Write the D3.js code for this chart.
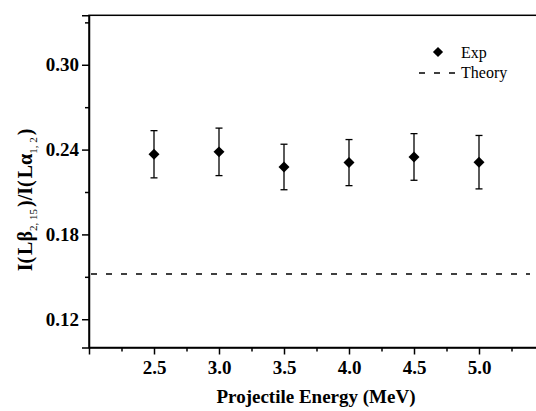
<!DOCTYPE html>
<html>
<head>
<meta charset="utf-8">
<script src="https://cdn.jsdelivr.net/npm/d3@7"></script>
<style>
  body { margin: 0; background: #fff; }
  svg { display: block; }
</style>
</head>
<body>
<div id="chart"></div>
<script>
var energies = [2.5, 3.0, 3.5, 4.0, 4.5, 5.0];
var ratios = [0.2367, 0.2384, 0.2277, 0.2308, 0.2348, 0.2311];
var errors = [0.0167, 0.0168, 0.0161, 0.0163, 0.0165, 0.0189];
var theory = 0.152;
var xTicks = [2.5, 3.0, 3.5, 4.0, 4.5, 5.0];
var yTicks = [0.12, 0.18, 0.24, 0.30];

var width = 536, height = 411;
var serif = "'Liberation Serif', 'Times New Roman', serif";

var x = d3.scaleLinear().domain([2.0, 5.5]).range([89, 544]);
var y = d3.scaleLinear().domain([0.10, 0.335]).range([347.5, 15.3]);

var svg = d3.select("#chart")
    .append("svg")
    .attr("width", width)
    .attr("height", height);

// frame (right edge falls outside the picture)
svg.append("rect")
    .attr("x", x(2.0))
    .attr("y", y(0.335))
    .attr("width", x(5.5) - x(2.0))
    .attr("height", y(0.10) - y(0.335))
    .attr("fill", "none")
    .attr("stroke", "#000")
    .attr("stroke-width", 1.5);

// bottom axis
var xAxis = svg.append("g")
    .attr("transform", "translate(0," + y(0.10) + ")")
    .call(d3.axisBottom(x).tickValues(xTicks).tickSize(7).tickFormat(d3.format(".1f")));
svg.append("g")
    .attr("transform", "translate(0," + y(0.10) + ")")
    .call(d3.axisBottom(x).tickValues(d3.range(2.25, 5.3, 0.5)).tickSize(4).tickFormat(""))
    .call(function(g) { g.select(".domain").remove(); });

// left axis
var yAxis = svg.append("g")
    .attr("transform", "translate(" + x(2.0) + ",0)")
    .call(d3.axisLeft(y).tickValues(yTicks).tickSize(7).tickFormat(d3.format(".2f")));
svg.append("g")
    .attr("transform", "translate(" + x(2.0) + ",0)")
    .call(d3.axisLeft(y).tickValues([0.15, 0.21, 0.27, 0.33]).tickSize(4).tickFormat(""))
    .call(function(g) { g.select(".domain").remove(); });

svg.selectAll(".domain").attr("stroke-width", 1.5);
svg.selectAll(".tick line").attr("stroke-width", 1.5);

xAxis.selectAll("text")
    .attr("font-family", serif)
    .attr("font-weight", "bold")
    .attr("font-size", 19)
    .attr("y", 13)
    .attr("fill", "#000");
yAxis.selectAll("text")
    .attr("font-family", serif)
    .attr("font-weight", "bold")
    .attr("font-size", 19)
    .attr("x", -10)
    .attr("fill", "#000");

// theory line
svg.append("line")
    .attr("x1", x(2.0) + 2)
    .attr("x2", 530)
    .attr("y1", y(theory))
    .attr("y2", y(theory))
    .attr("stroke", "#000")
    .attr("stroke-width", 1.5)
    .attr("stroke-dasharray", "6,9");

// error bars
var pts = energies.map(function(e, i) { return {e: e, r: ratios[i], err: errors[i]}; });
var bars = svg.selectAll(".err").data(pts).enter().append("g").attr("class", "err");
bars.append("line")
    .attr("x1", function(d) { return x(d.e); })
    .attr("x2", function(d) { return x(d.e); })
    .attr("y1", function(d) { return y(d.r - d.err); })
    .attr("y2", function(d) { return y(d.r + d.err); })
    .attr("stroke", "#000")
    .attr("stroke-width", 1.3);
[-1, 1].forEach(function(s) {
    bars.append("line")
        .attr("x1", function(d) { return x(d.e) - 3.5; })
        .attr("x2", function(d) { return x(d.e) + 3.5; })
        .attr("y1", function(d) { return y(d.r + s * d.err); })
        .attr("y2", function(d) { return y(d.r + s * d.err); })
        .attr("stroke", "#000")
        .attr("stroke-width", 1.3);
});

// diamonds
var diamond = d3.symbol().type(d3.symbolSquare).size(60);
svg.selectAll(".pt").data(pts).enter().append("path")
    .attr("class", "pt")
    .attr("d", diamond)
    .attr("transform", function(d) { return "translate(" + x(d.e) + "," + y(d.r) + ") rotate(45)"; })
    .attr("fill", "#000");

// legend
svg.append("path")
    .attr("d", d3.symbol().type(d3.symbolSquare).size(52))
    .attr("transform", "translate(438,52) rotate(45)")
    .attr("fill", "#000");
svg.append("text")
    .attr("x", 461).attr("y", 57.5)
    .attr("font-family", serif).attr("font-size", 16)
    .text("Exp");
svg.append("line")
    .attr("x1", 419).attr("x2", 456)
    .attr("y1", 73).attr("y2", 73)
    .attr("stroke", "#000")
    .attr("stroke-width", 1.5)
    .attr("stroke-dasharray", "6,9");
svg.append("text")
    .attr("x", 461).attr("y", 78)
    .attr("font-family", serif).attr("font-size", 16)
    .text("Theory");

// axis titles
svg.append("text")
    .attr("x", 316).attr("y", 403)
    .attr("text-anchor", "middle")
    .attr("font-family", serif).attr("font-weight", "bold").attr("font-size", 19)
    .text("Projectile Energy (MeV)");

var yl = svg.append("text")
    .attr("transform", "translate(32,200) rotate(-90)")
    .attr("text-anchor", "middle")
    .attr("font-family", serif).attr("font-weight", "bold").attr("font-size", 20);
yl.append("tspan").text("I(");
yl.append("tspan").attr("dx", 2).text("Lβ");
yl.append("tspan").attr("font-size", 11).attr("font-weight", "normal").attr("dy", 5).text("2, 15");
yl.append("tspan").attr("dy", -5).attr("dx", 2).text(")/I(");
yl.append("tspan").attr("dx", 2).text("Lα");
yl.append("tspan").attr("font-size", 11).attr("font-weight", "normal").attr("dy", 5).text("1, 2");
yl.append("tspan").attr("dy", -5).attr("dx", 2).text(")");
</script>
</body>
</html>
